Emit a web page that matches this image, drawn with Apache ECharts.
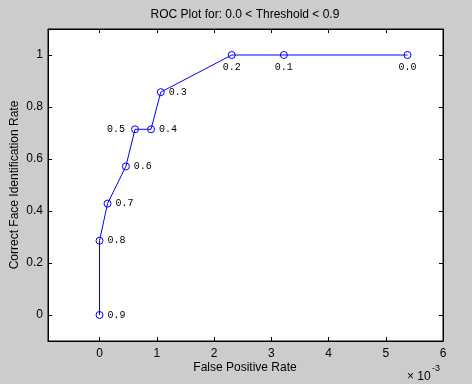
<!DOCTYPE html>
<html>
<head>
<meta charset="utf-8">
<script src="https://cdn.jsdelivr.net/npm/echarts@6/dist/echarts.min.js"></script>
<style>
html,body{margin:0;padding:0;background:#cccccc;}
#chart{width:472px;height:384px;}
</style>
</head>
<body>
<div id="chart"></div>
<script>
// False positive rate in units of 1e-3 (axis shows "x 10^-3")
const fpr = [0, 0, 0.14, 0.46, 0.62, 0.90, 1.07, 2.31, 3.22, 5.38];
const correctRate = [0, 0.2857, 0.4286, 0.5714, 0.7143, 0.7143, 0.8571, 1.0, 1.0, 1.0];
const thresholds = ['0.9', '0.8', '0.7', '0.6', '0.5', '0.4', '0.3', '0.2', '0.1', '0.0'];
const xTicks = [0, 1, 2, 3, 4, 5, 6];
const yTicks = [0, 0.2, 0.4, 0.6, 0.8, 1];

const chart = echarts.init(document.getElementById('chart'), null, {renderer: 'canvas'});

const labelFont = {fontFamily: 'Liberation Mono', fontSize: 10, color: '#000'};
function labelFor(i) {
  const t = thresholds[i];
  if (t === '0.2' || t === '0.1' || t === '0.0') return Object.assign({show: true, position: 'bottom', distance: 3, formatter: t}, labelFont);
  if (t === '0.5') return Object.assign({show: true, position: 'left', distance: 6, formatter: t}, labelFont);
  return Object.assign({show: true, position: 'right', distance: 4, formatter: t}, labelFont);
}
const data = fpr.map((x, i) => ({value: [x, correctRate[i]], label: labelFor(i)}));

const axisFont = {fontFamily: 'Liberation Sans', fontSize: 12, color: '#000'};
const tickStyle = {show: true, inside: true, length: 4, lineStyle: {color: '#000', width: 1}};
const lineStyle = {show: true, onZero: false, lineStyle: {color: '#000', width: 1}};

chart.setOption({
  backgroundColor: '#cccccc',
  animation: false,
  grid: {left: 48, right: 29, top: 29, bottom: 43, show: true, backgroundColor: '#ffffff', borderColor: '#000', borderWidth: 1},
  xAxis: [{
    type: 'value', min: -0.9, max: 6, position: 'bottom',
    axisLine: lineStyle, splitLine: {show: false},
    axisTick: Object.assign({customValues: xTicks}, tickStyle),
    axisLabel: Object.assign({customValues: xTicks, margin: 7, formatter: v => String(v)}, axisFont)
  }, {
    type: 'value', min: -0.9, max: 6, position: 'top',
    axisLine: lineStyle, splitLine: {show: false},
    axisTick: Object.assign({customValues: xTicks}, tickStyle),
    axisLabel: {show: false}
  }],
  yAxis: [{
    type: 'value', min: -0.1, max: 1.1, position: 'left',
    axisLine: lineStyle, splitLine: {show: false},
    axisTick: Object.assign({customValues: yTicks}, tickStyle),
    axisLabel: Object.assign({customValues: yTicks, margin: 5, formatter: v => String(Math.round(v * 10) / 10)}, axisFont)
  }, {
    type: 'value', min: -0.1, max: 1.1, position: 'right',
    axisLine: lineStyle, splitLine: {show: false},
    axisTick: Object.assign({customValues: yTicks}, tickStyle),
    axisLabel: {show: false}
  }],
  graphic: [
    {type: 'text', x: 245, y: 15, style: {text: 'ROC Plot for: 0.0 < Threshold < 0.9', textAlign: 'center', textVerticalAlign: 'middle', font: '12px "Liberation Sans"', fill: '#000'}},
    {type: 'text', x: 245, y: 368, style: {text: 'False Positive Rate', textAlign: 'center', textVerticalAlign: 'middle', font: '12px "Liberation Sans"', fill: '#000'}},
    {type: 'text', x: 15, y: 185, rotation: Math.PI / 2, style: {text: 'Correct Face Identification Rate', textAlign: 'center', textVerticalAlign: 'middle', font: '12px "Liberation Sans"', fill: '#000'}},
    {type: 'text', x: 407, y: 377, style: {text: '\u00d7 10', textAlign: 'left', textVerticalAlign: 'middle', font: '12px "Liberation Sans"', fill: '#000'}},
    {type: 'text', x: 432, y: 369, style: {text: '-3', textAlign: 'left', textVerticalAlign: 'middle', font: '9px "Liberation Sans"', fill: '#000'}}
  ],
  series: [{
    type: 'line',
    data: data,
    symbol: 'circle',
    symbolSize: 7,
    itemStyle: {color: 'rgba(0,0,0,0)', borderColor: '#0000ff', borderWidth: 1},
    lineStyle: {color: '#0000ff', width: 1},
    xAxisIndex: 0, yAxisIndex: 0
  }]
});
</script>
</body>
</html>
